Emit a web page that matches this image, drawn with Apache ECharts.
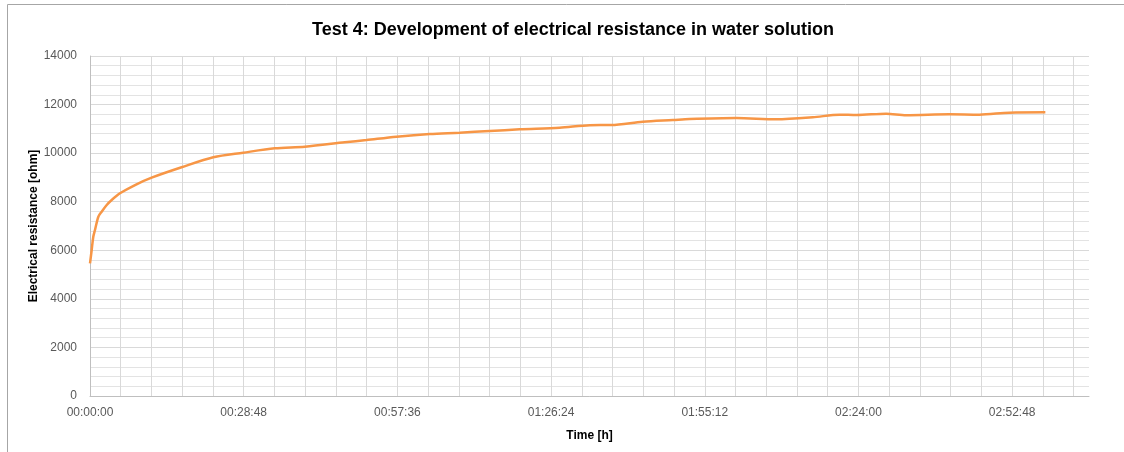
<!DOCTYPE html>
<html>
<head>
<meta charset="utf-8">
<script src="https://cdn.jsdelivr.net/npm/echarts@6/dist/echarts.min.js"></script>
<style>
html,body{margin:0;padding:0;background:#fff;}
#chart{width:1124px;height:452px;}
</style>
</head>
<body>
<div id="chart"></div>
<script>
// elapsed time in seconds
const timeSec = [0, 19, 37, 56, 94, 131, 188, 244, 337, 506, 693, 1030, 1386, 1722, 2078, 2416, 2865, 3109, 3446, 3820, 4157, 4494, 4831, 5280, 5618, 5861, 6216, 6553, 6741, 7266, 7715, 8126, 8426, 8620, 8951, 9176, 9662, 9999, 10336, 10741];
// electrical resistance in ohm
const resistance = [5464, 6012, 6560, 6835, 7383, 7589, 7865, 8071, 8346, 8688, 8990, 9417, 9828, 10018, 10199, 10265, 10447, 10541, 10678, 10788, 10843, 10912, 10981, 11048, 11150, 11159, 11295, 11365, 11406, 11447, 11393, 11475, 11585, 11571, 11626, 11559, 11599, 11585, 11667, 11681];

const titleText = 'Test 4: Development of electrical resistance in water solution';
const xName = 'Time [h]';
const yName = 'Electrical resistance [ohm]';
const xMajor = 1728;      // 00:28:48
const xMinor = 345.6;     // fifth of major
const xMax = 11232;
const yMax = 14000;

function fmt(sec) {
  const s = Math.round(sec);
  const h = Math.floor(s / 3600), m = Math.floor((s % 3600) / 60), ss = s % 60;
  const p = n => String(n).padStart(2, '0');
  return p(h) + ':' + p(m) + ':' + p(ss);
}

const seriesData = timeSec.map((t, i) => [t, resistance[i]]);

const chart = echarts.init(document.getElementById('chart'), null, {renderer: 'canvas'});
chart.setOption({
  animation: false,
  backgroundColor: '#ffffff',
  title: {
    text: titleText,
    left: 568,
    top: 16,
    textAlign: 'center',
    textStyle: {fontFamily: 'Liberation Sans', fontWeight: 'bold', fontSize: 18, color: '#000000'}
  },
  graphic: [{
    type: 'rect',
    shape: {x: 7.5, y: 4.5, width: 1140, height: 470},
    style: {fill: 'none', stroke: '#a6a6a6', lineWidth: 1},
    silent: true
  }],
  grid: {left: 90, top: 56, right: 35, bottom: 56, containLabel: false},
  xAxis: {
    type: 'value',
    min: 0,
    max: xMax,
    interval: xMinor,
    name: xName,
    nameLocation: 'middle',
    nameGap: 34,
    nameMoveOverlap: false,
    nameTextStyle: {fontFamily: 'Liberation Sans', fontWeight: 'bold', fontSize: 12, color: '#000'},
    axisLine: {show: true, lineStyle: {color: '#bfbfbf', width: 1}},
    axisTick: {show: false},
    axisLabel: {
      showMaxLabel: false,
      margin: 11,
      fontFamily: 'Liberation Sans', fontSize: 12, color: '#595959',
      formatter: function (v) {
        const r = v / xMajor;
        return Math.abs(r - Math.round(r)) < 1e-6 ? fmt(v) : '';
      }
    },
    splitLine: {show: true, showMaxLine: false, lineStyle: {color: '#d9d9d9', width: 1}}
  },
  yAxis: {
    type: 'value',
    min: 0,
    max: yMax,
    interval: 2000,
    name: yName,
    nameLocation: 'middle',
    nameGap: 50,
    nameMoveOverlap: false,
    nameTextStyle: {fontFamily: 'Liberation Sans', fontWeight: 'bold', fontSize: 12, color: '#000'},
    axisLine: {show: true, lineStyle: {color: '#bfbfbf', width: 1}},
    axisTick: {show: false},
    axisLabel: {
      margin: 13, fontFamily: 'Liberation Sans', fontSize: 12, color: '#595959',
      formatter: function (v) { return String(v); }
    },
    splitLine: {show: true, lineStyle: {color: '#d9d9d9', width: 1}},
    minorTick: {show: false, splitNumber: 5},
    minorSplitLine: {show: true, lineStyle: {color: '#e3e3e3', width: 1}}
  },
  series: [{
    type: 'line',
    data: seriesData,
    showSymbol: false,
    smooth: 0.3,
    lineStyle: {color: '#F79646', width: 2.5},
    itemStyle: {color: '#F79646'}
  }]
});
</script>
</body>
</html>
